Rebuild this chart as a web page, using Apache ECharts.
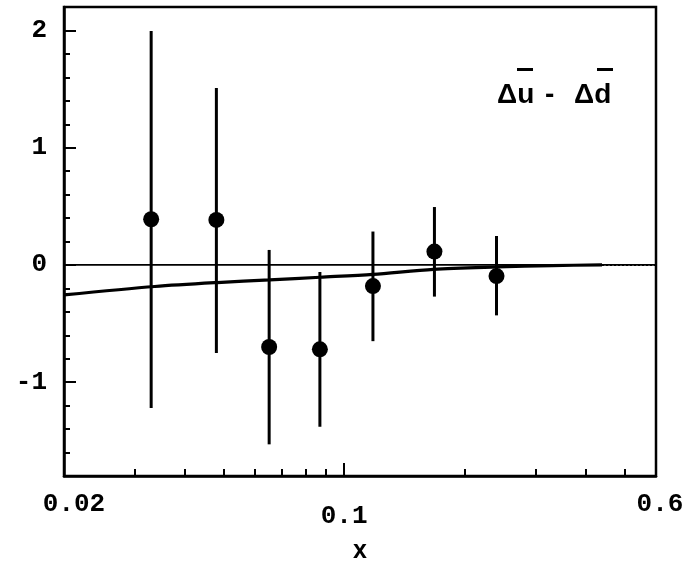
<!DOCTYPE html>
<html>
<head>
<meta charset="utf-8">
<script src="https://cdn.jsdelivr.net/npm/echarts@6/dist/echarts.min.js"></script>
<style>
  html, body { margin: 0; padding: 0; background: #fff; }
  #chart { width: 683px; height: 571px; }
</style>
</head>
<body>
<div id="chart"></div>
<script>
// Measured asymmetry points with their error bars
const xPoints = [0.033, 0.048, 0.065, 0.087, 0.118, 0.168, 0.24];
const yPoints = [0.39, 0.384, -0.70, -0.72, -0.18, 0.114, -0.095];
const yHigh   = [1.995, 1.51, 0.128, -0.06, 0.285, 0.494, 0.247];
const yLow    = [-1.22, -0.75, -1.53, -1.38, -0.65, -0.27, -0.43];

// Model curve (solid part) and its dotted continuation
const curveX = [0.02, 0.0337, 0.0482, 0.0652, 0.0871, 0.118, 0.167, 0.241, 0.33, 0.44];
const curveY = [-0.256, -0.184, -0.15, -0.128, -0.105, -0.08, -0.037, -0.017, -0.005, 0];
const tailX = [0.44, 0.6];
const tailY = [0, 0];

// Axis ticks and labels
const xLabelValues = [0.02, 0.1, 0.6];
const xMajorTicks = [0.1];
const xMinorTicks = [0.03, 0.04, 0.05, 0.06, 0.07, 0.08, 0.09, 0.2, 0.3, 0.4, 0.5];
const yLabelValues = [-1, 0, 1, 2];
const yMinorTicks = [-1.6, -1.4, -1.2, -0.8, -0.6, -0.4, -0.2, 0.2, 0.4, 0.6, 0.8, 1.2, 1.4, 1.6, 1.8];

const X_MIN = 0.02, X_MAX = 0.6, Y_MIN = -1.8, Y_MAX = 2.2;
const MONO = 'Liberation Mono';
const SANS = 'Liberation Sans';

const chart = echarts.init(document.getElementById('chart'), null, { renderer: 'canvas' });

function pairs(xs, ys) { return xs.map((x, i) => [x, ys[i]]); }

const tickFont = { fontFamily: MONO, fontWeight: 'bold', fontSize: 26, color: '#000' };

const option = {
  animation: false,
  backgroundColor: '#fff',
  grid: {
    left: 64, right: 27, top: 7, bottom: 95,
    outerBoundsMode: 'none', containLabel: false,
    show: true, borderColor: '#000', borderWidth: 2.5, backgroundColor: 'transparent'
  },
  xAxis: [
    {
      type: 'log', logBase: 10, min: X_MIN, max: X_MAX,
      name: 'x', nameLocation: 'middle', nameGap: 63,
      nameTextStyle: { fontFamily: SANS, fontWeight: 'bold', fontSize: 25, color: '#000' },
      axisLine: { show: true, onZero: false, lineStyle: { color: '#000', width: 2.5 } },
      axisTick: { show: true, inside: true, length: 13, customValues: xMajorTicks, lineStyle: { color: '#000', width: 2 } },
      axisLabel: {
        show: true, customValues: xLabelValues, margin: 15,
        formatter: function (v) {
          const r = Math.round(v * 100) / 100;
          if (Math.abs(r - 0.1) < 1e-6) return '{mid|0.1}';
          if (Math.abs(r - 0.02) < 1e-6) return '{left|0.02}';
          return '{right|0.6}';
        },
        rich: {
          left: Object.assign({ padding: [0, 0, 0, 20] }, tickFont),
          mid: Object.assign({ padding: [12, 0, 0, 0] }, tickFont),
          right: Object.assign({ padding: [0, 0, 0, 8] }, tickFont)
        }
      },
      splitLine: { show: false }
    },
    {
      type: 'log', logBase: 10, min: X_MIN, max: X_MAX, position: 'bottom',
      axisLine: { show: false, onZero: false },
      axisTick: { show: true, inside: true, length: 7, customValues: xMinorTicks, lineStyle: { color: '#000', width: 2 } },
      axisLabel: { show: false },
      splitLine: { show: false }
    }
  ],
  yAxis: [
    {
      type: 'value', min: Y_MIN, max: Y_MAX,
      axisLine: { show: true, onZero: false, lineStyle: { color: '#000', width: 2.5 } },
      axisTick: { show: true, inside: true, length: 12, customValues: yLabelValues, lineStyle: { color: '#000', width: 2 } },
      axisLabel: Object.assign({
        show: true, customValues: yLabelValues, margin: 17,
        formatter: v => (v < 0 ? '-' + Math.abs(v) : String(v))
      }, tickFont),
      splitLine: { show: false }
    },
    {
      type: 'value', min: Y_MIN, max: Y_MAX, position: 'left',
      axisLine: { show: false, onZero: false },
      axisTick: { show: true, inside: true, length: 6, customValues: yMinorTicks, lineStyle: { color: '#000', width: 2 } },
      axisLabel: { show: false },
      splitLine: { show: false }
    }
  ],
  graphic: [
    { type: 'text', x: 497, y: 95, silent: true,
      style: { text: 'Δu', fontFamily: SANS, fontWeight: 'bold', fontSize: 28, fill: '#000', verticalAlign: 'middle' } },
    { type: 'text', x: 545, y: 95, silent: true,
      style: { text: '-', fontFamily: SANS, fontWeight: 'bold', fontSize: 28, fill: '#000', verticalAlign: 'middle' } },
    { type: 'text', x: 574, y: 95, silent: true,
      style: { text: 'Δd', fontFamily: SANS, fontWeight: 'bold', fontSize: 28, fill: '#000', verticalAlign: 'middle' } },
    { type: 'rect', silent: true, shape: { x: 517, y: 68, width: 16, height: 3 }, style: { fill: '#000' } },
    { type: 'rect', silent: true, shape: { x: 597, y: 68, width: 16, height: 3 }, style: { fill: '#000' } }
  ],
  series: [
    {
      // zero reference line
      type: 'line', xAxisIndex: 0, yAxisIndex: 0,
      data: [[X_MIN, 0], [X_MAX, 0]],
      symbol: 'none', lineStyle: { color: '#000', width: 1.8 }, z: 2
    },
    {
      type: 'line', xAxisIndex: 0, yAxisIndex: 0,
      data: pairs(curveX, curveY), smooth: 0.3,
      symbol: 'none', lineStyle: { color: '#000', width: 3.2 }, z: 3
    },
    {
      type: 'line', xAxisIndex: 0, yAxisIndex: 0,
      data: pairs(tailX, tailY),
      symbol: 'none', lineStyle: { color: '#000', width: 2, type: [2, 2] }, z: 3
    },
    {
      type: 'custom', xAxisIndex: 0, yAxisIndex: 0,
      data: xPoints.map((x, i) => [x, yLow[i], yHigh[i]]),
      encode: { x: 0, y: [1, 2] },
      renderItem: function (params, api) {
        const lo = api.coord([api.value(0), api.value(1)]);
        const hi = api.coord([api.value(0), api.value(2)]);
        return {
          type: 'line',
          shape: { x1: lo[0], y1: lo[1], x2: hi[0], y2: hi[1] },
          style: { stroke: '#000', lineWidth: 3 }
        };
      },
      z: 4
    },
    {
      type: 'scatter', xAxisIndex: 0, yAxisIndex: 0,
      data: pairs(xPoints, yPoints),
      symbol: 'circle', symbolSize: 16,
      itemStyle: { color: '#000', opacity: 1 }, z: 5
    }
  ]
};

chart.setOption(option);
</script>
</body>
</html>
